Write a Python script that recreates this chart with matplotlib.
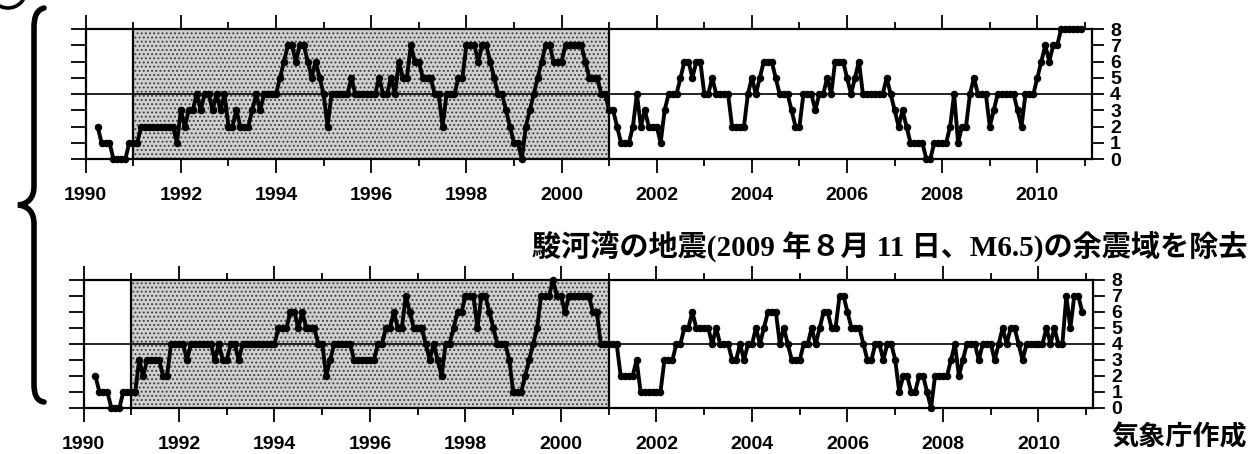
import numpy as np
import matplotlib
matplotlib.use("Agg")
import matplotlib.pyplot as plt
from matplotlib.path import Path
from matplotlib.patches import PathPatch, Circle

# Monthly counts, months numbered from Jan 1990 (=0); series runs Apr 1990 .. Dec 2010
first_month = 3
last_month = 251

all_region = [
    2, 1, 1, 1, 0, 0, 0, 0, 1,              # 1990 Apr-Dec
    1, 1, 2, 2, 2, 2, 2, 2, 2, 2, 2, 1,     # 1991
    3, 2, 3, 3, 4, 3, 4, 4, 3, 4, 3, 4,     # 1992
    2, 2, 3, 2, 2, 2, 3, 4, 3, 4, 4, 4,     # 1993
    4, 5, 6, 7, 7, 6, 7, 7, 6, 5, 6, 5,     # 1994
    4, 2, 4, 4, 4, 4, 4, 5, 4, 4, 4, 4,     # 1995
    4, 4, 5, 4, 4, 5, 4, 6, 5, 5, 7, 6,     # 1996
    6, 5, 5, 5, 4, 4, 2, 4, 4, 4, 5, 5,     # 1997
    7, 7, 7, 6, 7, 7, 6, 5, 4, 4, 3, 2,     # 1998
    1, 1, 0, 2, 3, 4, 5, 6, 7, 7, 6, 6,     # 1999
    6, 7, 7, 7, 7, 7, 6, 5, 5, 5, 4, 4,     # 2000
    3, 3, 2, 1, 1, 1, 2, 4, 2, 3, 2, 2,     # 2001
    2, 1, 3, 4, 4, 4, 5, 6, 6, 5, 6, 6,     # 2002
    4, 4, 5, 4, 4, 4, 4, 2, 2, 2, 2, 4,     # 2003
    5, 4, 5, 6, 6, 6, 5, 4, 4, 4, 3, 2,     # 2004
    2, 4, 4, 4, 3, 4, 4, 5, 4, 6, 6, 6,     # 2005
    5, 4, 5, 6, 4, 4, 4, 4, 4, 4, 5, 4,     # 2006
    3, 2, 3, 2, 1, 1, 1, 1, 0, 0, 1, 1,     # 2007
    1, 1, 2, 4, 1, 2, 2, 4, 5, 4, 4, 4,     # 2008
    2, 3, 4, 4, 4, 4, 4, 3, 2, 4, 4, 4,     # 2009
    5, 6, 7, 6, 7, 7, 8, 8, 8, 8, 8, 8,     # 2010
]

aftershock_removed = [
    2, 1, 1, 1, 0, 0, 0, 1, 1,              # 1990 Apr-Dec
    1, 1, 3, 2, 3, 3, 3, 3, 2, 2, 4, 4,     # 1991
    4, 4, 3, 4, 4, 4, 4, 4, 4, 3, 4, 3,     # 1992
    3, 4, 4, 3, 4, 4, 4, 4, 4, 4, 4, 4,     # 1993
    4, 5, 5, 5, 6, 6, 5, 6, 5, 5, 5, 4,     # 1994
    4, 2, 3, 4, 4, 4, 4, 4, 3, 3, 3, 3,     # 1995
    3, 3, 4, 4, 5, 5, 6, 5, 5, 7, 6, 5,     # 1996
    5, 5, 4, 3, 4, 3, 2, 4, 4, 5, 6, 6,     # 1997
    7, 7, 7, 5, 7, 7, 6, 5, 4, 4, 4, 3,     # 1998
    1, 1, 1, 2, 3, 4, 5, 7, 7, 7, 8, 7,     # 1999
    7, 6, 7, 7, 7, 7, 7, 7, 6, 6, 4, 4,     # 2000
    4, 4, 4, 2, 2, 2, 2, 3, 1, 1, 1, 1,     # 2001
    1, 1, 3, 3, 3, 4, 4, 5, 5, 6, 5, 5,     # 2002
    5, 5, 4, 5, 4, 4, 4, 3, 3, 4, 3, 4,     # 2003
    4, 5, 4, 5, 6, 6, 6, 4, 5, 4, 3, 3,     # 2004
    3, 4, 4, 5, 4, 5, 6, 6, 5, 5, 7, 7,     # 2005
    6, 5, 5, 5, 4, 3, 3, 4, 4, 3, 4, 4,     # 2006
    3, 1, 2, 2, 1, 1, 2, 2, 1, 0, 2, 2,     # 2007
    2, 2, 3, 4, 2, 3, 4, 4, 4, 3, 4, 4,     # 2008
    4, 3, 4, 5, 4, 5, 5, 4, 3, 4, 4, 4,     # 2009
    4, 4, 5, 4, 5, 4, 4, 7, 5, 7, 7, 6,     # 2010
]

major_years = list(range(1990, 2011, 2))
minor_years = list(range(1991, 2012, 2))
year_labels = [str(y) for y in major_years]
level_ticks = list(range(0, 9))
shade_span = (1991, 2001)
ref_level = 4

title = "駿河湾の地震(2009 年８月 11 日、M6.5)の余震域を除去"
credit = "気象庁作成"

plt.rcParams["font.family"] = ["Liberation Sans", "DejaVu Sans"]
plt.rcParams["font.weight"] = "bold"
plt.rcParams["hatch.linewidth"] = 0.9

W, H = 1251, 454
fig = plt.figure(figsize=(W / 100, H / 100), dpi=100)

months = np.arange(first_month, last_month + 1)
t = 1990 + months / 12.0


def draw_panel(rect, counts, xpad):
    ax = fig.add_axes(rect)
    ax.set_xlim(1990, 2011.15)
    ax.set_ylim(0, 8)
    ax.axvspan(*shade_span, facecolor="#d0d0d0", edgecolor="#404040",
               hatch="....", linewidth=0, zorder=0)
    for xv in shade_span:
        ax.axvline(xv, color="black", lw=1.6, zorder=2)
    ax.axhline(ref_level, color="black", lw=1.2, zorder=2)
    ax.plot(t, counts, color="black", lw=2.8, marker="o", ms=4.4,
            clip_on=False, zorder=4)
    for s in ax.spines.values():
        s.set_linewidth(1.6)
    ax.set_xticks(major_years)
    ax.set_xticklabels(year_labels)
    ax.set_xticks(minor_years, minor=True)
    ax.tick_params(axis="x", which="both", direction="out", top=True,
                   bottom=True, width=1.3)
    ax.tick_params(axis="x", which="major", length=10, pad=xpad, labelsize=14)
    ax.tick_params(axis="x", which="minor", length=5)
    ax.set_yticks(level_ticks)
    ax.tick_params(axis="y", direction="out", left=True, right=True,
                   labelleft=False, labelright=True, labelsize=14,
                   width=1.3, pad=9.5)
    for tk in ax.yaxis.get_major_ticks():
        tk.tick1line.set_markersize(11)
        tk.tick2line.set_markersize(8.5)
    return ax


draw_panel([85.7 / W, (H - 159) / H, 1006.4 / W, 130 / H], all_region, 10)
draw_panel([83.5 / W, (H - 408) / H, 1009.9 / W, 128 / H], aftershock_removed, 10)

# pixel-space overlay for the brace, the heading and the credit line
ov = fig.add_axes([0, 0, 1, 1], zorder=-1)
ov.set_xlim(0, W)
ov.set_ylim(H, 0)
ov.axis("off")

verts = [
    (44, 8), (37, 10), (34, 16), (34, 28),
    (34, 186),
    (34, 198), (28, 204), (18, 205),
    (28, 206), (34, 212), (34, 224),
    (34, 384),
    (34, 395), (37, 401), (44, 402),
]
codes = ([Path.MOVETO] + [Path.CURVE4] * 3 + [Path.LINETO] +
         [Path.CURVE4] * 6 + [Path.LINETO] + [Path.CURVE4] * 3)
ov.add_patch(PathPatch(Path(verts, codes), facecolor="none",
                       edgecolor="black", lw=4.0, capstyle="round"))
ov.add_patch(Circle((8, -10), 18, fill=False, edgecolor="black", lw=2.6))

ov.text(1247, 246, title, ha="right", va="center", fontsize=21,
        fontweight="bold", family=["Liberation Serif", "Noto Sans CJK JP"])
ov.text(1247, 437, credit, ha="right", va="center", fontsize=19.5,
        fontweight="bold", family=["Noto Sans CJK JP", "DejaVu Sans"])

fig.savefig("out.png", dpi=100)
